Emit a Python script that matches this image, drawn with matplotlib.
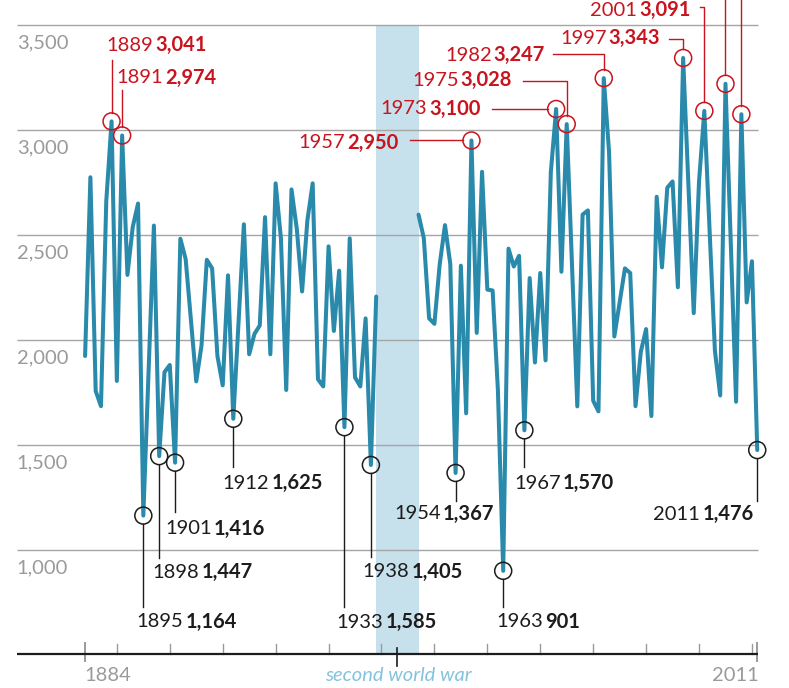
import numpy as np
import matplotlib
matplotlib.use("Agg")
import matplotlib.pyplot as plt

# ---- data -------------------------------------------------------------
years_pre = list(range(1884, 1940))
values_pre = [1924, 2775, 1757, 1685, 2662, 3041, 1805, 2974, 2310, 2538,
              2650, 1164, 1855, 2545, 1447, 1847, 1881, 1416, 2482, 2385,
              2094, 1803, 1975, 2382, 2341, 1924, 1784, 2308, 1625, 2088,
              2551, 1932, 2029, 2069, 2585, 1932, 2746, 2484, 1762, 2717,
              2529, 2231, 2570, 2746, 1813, 1779, 2446, 2043, 2330, 1585,
              2484, 1822, 1779, 2103, 1405, 2207]

years_post = list(range(1947, 2012))
values_post = [2597, 2485, 2103, 2077, 2360, 2547, 2362, 1367, 2354, 1651,
               2950, 2034, 2801, 2240, 2236, 1760, 901, 2435, 2350, 2401,
               1570, 2295, 1893, 2319, 1903, 2800, 3100, 2325, 3028, 2356,
               1684, 2597, 2617, 1711, 1660, 3247, 2895, 2017, 2179, 2341,
               2319, 1685, 1944, 2052, 1638, 2682, 2346, 2725, 2755, 2251,
               3343, 2735, 2128, 2755, 3091, 2520, 1949, 1736, 3220, 2463,
               1706, 3075, 2179, 2375, 1476]

y_ticks = [1000, 1500, 2000, 2500, 3000, 3500]
decade_ticks = list(range(1890, 2011, 10))
war_start, war_end, war_mid = 1939, 1947, 1943

highs = [1889, 1891, 1957, 1973, 1975, 1982, 1997, 2001]
highs_unlabelled = [2005, 2008]
lows = [1895, 1898, 1901, 1912, 1933, 1938, 1954, 1963, 1967, 2011]

# label layout: split point offset (px, right / down) and leader path
R = 8.5
layout = {
    1889: ((43, -76), [(0, -R), (0, -61)]),
    1891: ((42, -57.5), [(0, -R), (0, -45)]),
    1957: ((-125, 2), [(-R, 0), (-61, 0)]),
    1973: ((-128, 0), [(-R, 0), (-64, 0)]),
    1975: ((-107, -44), [(0, -R), (0, -43.5), (-44, -43.5)]),
    1982: ((-111, -23), [(0, -R), (0, -23.8), (-51, -23.8)]),
    1997: ((-75.5, -19.7), [(0, -R), (0, -19), (-14, -19)]),
    2001: ((-66, -100.5), [(0, -R), (0, -103.5), (-4, -103.5)]),
    2005: (None, [(0, -R), (0, -120)]),
    2008: (None, [(0, -R), (0, -150)]),
    1895: ((41, 106), [(0, R), (0, 91)]),
    1898: ((41, 116), [(0, R), (0, 102)]),
    1901: ((38, 66), [(0, R), (0, 49)]),
    1912: ((37, 64.5), [(0, R), (0, 48)]),
    1933: ((40, 195), [(0, R), (0, 180)]),
    1938: ((39.6, 107), [(0, R), (0, 92)]),
    1954: ((-13.7, 41), [(0, R), (0, 28)]),
    1963: ((40.7, 51), [(0, R), (0, 36)]),
    1967: ((37.6, 53), [(0, R), (0, 37)]),
    2011: ((-56, 64), [(0, R), (0, 51)]),
}

LINE = "#2a8aab"
RED = "#c8141e"
DARK = "#1c1c1c"
GREY = "#9a9a9a"
BAND = "#c6e0ec"
FS = 14.5

plt.rcParams['font.family'] = ['Lato', 'DejaVu Sans']

fig = plt.figure(figsize=(7.89, 6.88), dpi=100)
ax = fig.add_axes([0, 0, 1, 1])
ax.set_xlim(1867.92, 2017.0)
ax.set_ylim(343, 3619)
ax.axis('off')

x0, x1 = 1871.1, 2011.1
base = 505

ax.fill_between([war_start, war_end], base, 3500, color=BAND, lw=0, zorder=0)

ax.hlines(y_ticks, x0, x1, color="#a5a5a5", lw=1.0, zorder=1)
for t in y_ticks:
    ax.annotate(f"{t:,}", (x0, t), xytext=(0, -18), textcoords='offset pixels',
                ha='left', va='center', color=GREY, fontsize=FS)

ax.hlines(base, x0, x1, color=DARK, lw=1.6, zorder=3)


def shifted(year, val, dx, dy):
    X, Y = ax.transData.transform((year, val))
    return ax.transData.inverted().transform((X + dx, Y - dy))


for d in decade_ticks:
    p = shifted(d, base, 0, -10)
    ax.plot([d, d], [base, p[1]], color=GREY, lw=1.0, zorder=2)
for d in (1884, 2011):
    a = shifted(d, base, 0, -11)
    b = shifted(d, base, 0, 7)
    ax.plot([d, d], [a[1], b[1]], color=GREY, lw=1.4, zorder=2)
a = shifted(war_mid, base, 0, -6)
b = shifted(war_mid, base, 0, 12)
ax.plot([war_mid, war_mid], [a[1], b[1]], color=DARK, lw=1.2, zorder=2)

ax.annotate("1884", (1884, base), xytext=(-1, -22), textcoords='offset pixels',
            ha='left', va='center', color=GREY, fontsize=FS)
ax.annotate("2011", (2011, base), xytext=(2, -22), textcoords='offset pixels',
            ha='right', va='center', color=GREY, fontsize=FS)
ax.annotate("second world war", (war_mid, base), xytext=(1, -22),
            textcoords='offset pixels', ha='center', va='center',
            color="#86c2dd", fontsize=FS, fontstyle='italic')

ax.plot(years_pre, values_pre, color=LINE, lw=2.9, solid_joinstyle='round',
        solid_capstyle='round', zorder=5)
ax.plot(years_post, values_post, color=LINE, lw=2.9, solid_joinstyle='round',
        solid_capstyle='round', zorder=5)

lookup = dict(zip(years_pre + years_post, values_pre + values_post))


def mark(year, color):
    val = lookup[year]
    split, path = layout[year]
    ax.scatter([year], [val], s=150, facecolors='none', edgecolors=color,
               linewidths=1.1, zorder=6)
    pts = [shifted(year, val, dx, dy) for dx, dy in path]
    ax.plot([p[0] for p in pts], [p[1] for p in pts], color=color, lw=1.0,
            zorder=4)
    if split is None:
        return
    dx, dy = split
    gap = 1
    ax.annotate(str(year), (year, val), xytext=(dx - gap, -dy),
                textcoords='offset pixels', ha='right', va='center',
                color=color, fontsize=FS)
    ax.annotate(f"{val:,}", (year, val), xytext=(dx + gap, -dy),
                textcoords='offset pixels', ha='left', va='center',
                color=color, fontsize=FS, fontweight='bold')


for y in highs + highs_unlabelled:
    mark(y, RED)
for y in lows:
    mark(y, DARK)

fig.savefig("out.png", dpi=100)
